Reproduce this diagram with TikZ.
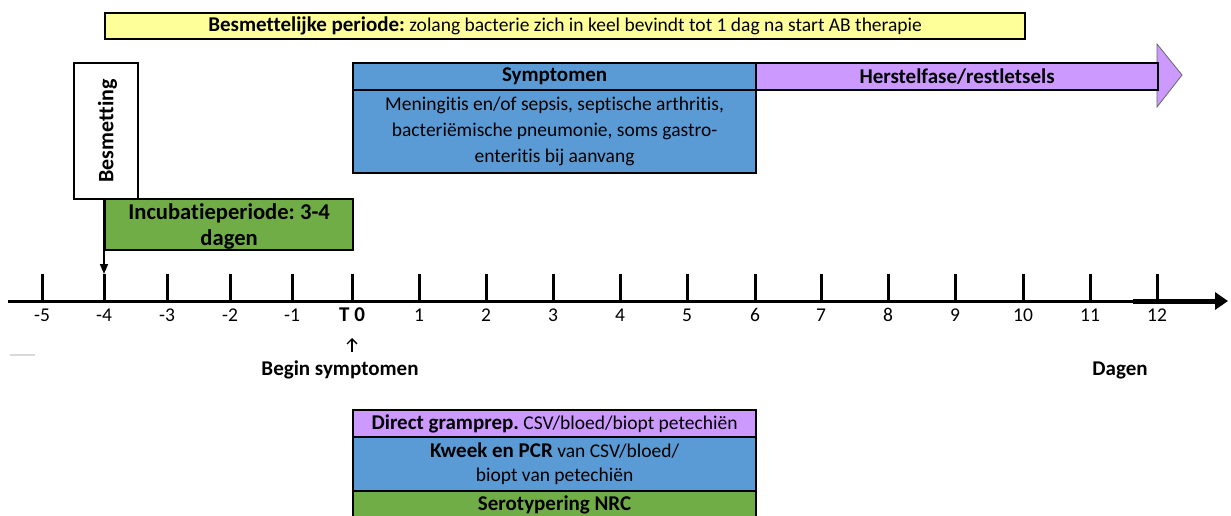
\documentclass[tikz,border=0pt]{standalone}
\usepackage{fontspec}
\setmainfont[Ligatures=NoCommon]{Carlito}
\usetikzlibrary{arrows.meta}
\definecolor{yel}{HTML}{FFFF99}
\definecolor{blu}{HTML}{5B9BD5}
\definecolor{grn}{HTML}{70AD47}
\definecolor{purp}{HTML}{CC99FF}
\frenchspacing
\newcommand\mybold[1]{{\fontsize{21}{26}\selectfont\bfseries #1}}
\begin{document}
\begin{tikzpicture}[x=1pt,y=-1pt,
  box/.style={draw=black, line width=2.2pt, inner sep=0pt, align=center, anchor=north west,
    font=\fontsize{19.5}{26}\selectfont},
  lbl/.style={font=\fontsize{19.5}{22}\selectfont, inner sep=0pt},
  bl/.style={font=\fontsize{21}{22}\selectfont\bfseries, inner sep=0pt}]
\useasboundingbox (0,0) rectangle (1231,516);
% top box
\node[box, fill=yel, minimum width=920, minimum height=26] (besm) at (104,12)
  {\mybold{Besmettelijke periode:} zolang bacterie zich in keel bevindt tot 1 dag na start AB therapie};
% Besmetting
\node[box, fill=white, minimum width=64, minimum height=136] (inf) at (73,62) {};
\node[bl, rotate=90, font=\fontsize{22}{24}\selectfont\bfseries] (inft) at ([xshift=1.5pt]inf.center) {Besmetting};
% Symptomen
\node[box, fill=blu, minimum width=403, minimum height=27] (symh) at (352,62) {\mybold{Symptomen}};
\node[box, fill=blu, minimum width=403, minimum height=83] (symb) at (352,89)
  {Meningitis en/of sepsis, septische arthritis,\\ bacteriëmische pneumonie, soms gastro-\\ enteritis bij aanvang};
% Herstel arrow
\draw[fill=purp, draw=black!60, line width=0.8pt] (1157,44) -- (1182,75) -- (1157,107) -- cycle;
\node[box, fill=purp, minimum width=402, minimum height=27] (herst) at (755,62) {\mybold{Herstelfase/restletsels}};
% Incubatie
\node[box, fill=grn, minimum width=248, minimum height=51] (incub) at (104,198) {};
\node[font=\fontsize{22.6}{26}\selectfont\bfseries, align=center, inner sep=0pt] (incubt) at ([yshift=-2pt]incub.center)
  {Incubatieperiode: 3-4\\ dagen};
% axis
\draw[line width=3pt] (8,301) -- (1133,301);
\draw[line width=5pt, -{Triangle[length=13pt,width=17pt]}] (1133,301) -- (1228,301);
\foreach \v/\x in {-5/42,-4/104,-3/167,-2/230,-1/292,0/352,1/419,2/486,3/553,4/620,5/687,6/755,7/821,8/888,9/955,10/1023,11/1090,12/1157}{
  \draw[line width=3pt] (\x,301) -- (\x,274) coordinate (tk\v);
  \ifnum\v=0
    \node[bl] (lab\v) at (\x,315) {T 0};
  \else
    \node[lbl] (lab\v) at (\x,315) {\v};
  \fi
}
\draw[line width=1.5pt, -{Triangle[length=10pt,width=8pt]}] (inf.south -| tk-4) -- (tk-4);
% labels below
\node[bl] (begin) at (340,370) {Begin symptomen};
\node[bl] (dagen) at (1120,370) {Dagen};
\draw[line width=1.4pt, -{Straight Barb[length=5pt,width=10pt]}] (begin.north -| lab0) ++(0,-9) -- (352,338);
\draw[line width=2pt, black!15] (10,355) -- (35,355);
% bottom boxes
\node[box, fill=purp, minimum width=403, minimum height=27] (gram) at (352,409)
  {\mybold{Direct gramprep.} CSV/bloed/biopt petechiën};
\node[box, fill=blu, minimum width=403, minimum height=54, font=\fontsize{19.5}{24}\selectfont] (kweek) at (352,436)
  {\mybold{Kweek en PCR} van CSV/bloed/\\ biopt van petechiën};
\node[box, fill=grn, minimum width=403, minimum height=28] (sero) at (352,490) {\mybold{Serotypering NRC}};
\end{tikzpicture}
\end{document}
